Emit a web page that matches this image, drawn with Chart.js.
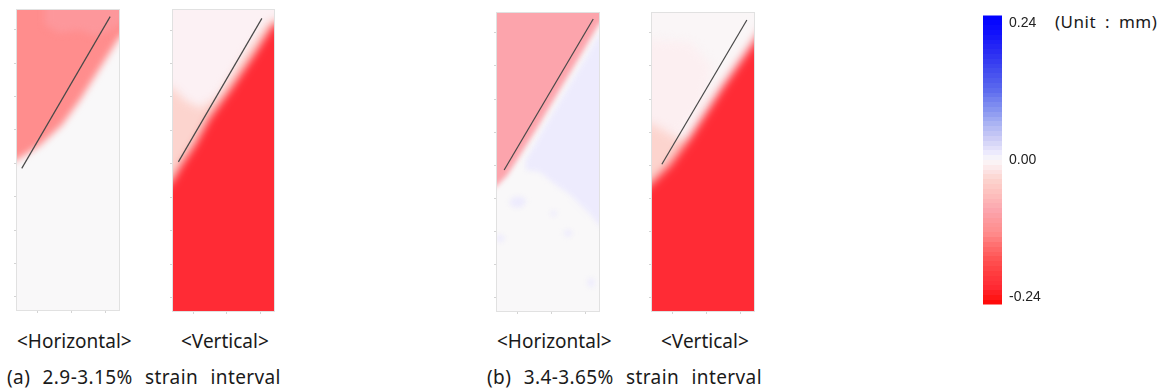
<!DOCTYPE html>
<html lang="en">
<head>
<meta charset="UTF-8">
<title>Displacement fields</title>
<script src="https://cdn.jsdelivr.net/npm/chart.js"></script>
<style>
    body {
        margin: 0;
        background: #fff;
        width: 1168px;
        height: 392px;
        position: relative;
        overflow: hidden;
        font-family: "Noto Sans", sans-serif;
        color: #1a1a1a;
    }
    canvas { position: absolute; top: 0; }
    .lbl {
        position: absolute;
        font-size: 19px;
        line-height: 1;
        white-space: nowrap;
    }
    .cap { word-spacing: 7px; letter-spacing: 0.4px; }
    .unit { font-size: 17px; letter-spacing: 0.5px; word-spacing: 4px; }
</style>
</head>
<body>
<canvas id="aH" width="125" height="314" style="left:0px"></canvas>
<canvas id="aV" width="120" height="315" style="left:160px"></canvas>
<canvas id="bH" width="121" height="315" style="left:484px"></canvas>
<canvas id="bV" width="120" height="315" style="left:640px"></canvas>
<canvas id="cbar" width="80" height="320" style="left:975px"></canvas>

<div class="lbl" style="left:17px;top:332px">&lt;Horizontal&gt;</div>
<div class="lbl" style="left:181px;top:332px">&lt;Vertical&gt;</div>
<div class="lbl" style="left:497px;top:332px">&lt;Horizontal&gt;</div>
<div class="lbl" style="left:661px;top:332px">&lt;Vertical&gt;</div>
<div class="lbl cap" style="left:7px;top:368px">(a) 2.9-3.15% strain interval</div>
<div class="lbl cap" style="left:487px;top:368px">(b) 3.4-3.65% strain interval</div>
<div class="lbl unit" style="left:1055px;top:13px">(Unit : mm)</div>

<script>
// specimen axes (mm), ticks only
const X_RANGE = [-0.6, 2.4];
const Y_RANGE = [-0.4, 8.6];
const X_TICKS = [0, 1, 2];
const Y_TICKS = [0, 1, 2, 3, 4, 5, 6, 7, 8];

// colour scale
const BAR_SPAN = [-0.253, 0.253];
const CBAR_TICKS = [-0.24, 0, 0.24];
const CMAP = [
    [0.253, '#0000ff'], [0.225, '#1010fc'], [0.19, '#2a2cf3'], [0.16, '#3f48ef'],
    [0.125, '#5a68ee'], [0.09, '#8492f0'], [0.065, '#a8b1f3'], [0.04, '#cacbf6'],
    [0.02, '#e3e1fa'], [0.012, '#edebfd'], [0, '#f9f8f9'], [-0.006, '#fcf1f4'],
    [-0.02, '#fce2e2'], [-0.035, '#fcd4ce'], [-0.056, '#fdc2bf'], [-0.09, '#fca4ac'],
    [-0.11, '#fd9699'], [-0.128, '#ff8d8d'], [-0.15, '#ff6e6e'], [-0.175, '#ff5252'],
    [-0.2, '#ff3a3e'], [-0.222, '#ff2b35'], [-0.24, '#ff1616'], [-0.253, '#ff0404']
];

// outline of the whole specimen (background level)
const SPECIMEN = [[-1, -1], [3, -1], [3, 9.5], [-1, 9.5]];

// (a) horizontal displacement
const aHorizLevels = [0, -0.128, -0.108];
const aHorizZones = [
    SPECIMEN,
    [[-1, 9.5], [3, 9.5], [3, 8.3], [2.4, 7.76], [1.84, 6.86], [1.25, 5.9], [0.72, 5.15],
     [0.08, 4.55], [-0.6, 4.1], [-1, 3.95]],
    [[0.22, 9.5], [0.22, 8.15], [0.66, 7.91], [1.25, 8.0], [1.69, 7.82], [2.19, 8.0],
     [2.7, 8.35], [2.7, 9.5]]
];
const aHorizCrack = [[-0.46, 3.85], [2.14, 8.40]];

// (a) vertical displacement
const aVertLevels = [-0.006, -0.035, -0.222];
const aVertZones = [
    SPECIMEN,
    [[-1, 6.4], [-0.6, 6.27], [-0.25, 5.91], [0.19, 5.67], [0.7, 6.0], [1.5, 7.2],
     [2.2, 8.2], [3, 8.6], [3, -1], [-1, -1]],
    [[3, 8.3], [2.37, 8.15], [1.81, 7.26], [1.14, 6.27], [0.49, 5.37], [0.05, 4.56],
     [-0.34, 3.97], [-0.6, 3.52], [-1, 3.07], [-1, -1], [3, -1]]
];
const aVertCrack = [[-0.44, 4.06], [2.04, 8.35]];

// (b) horizontal displacement
const bHorizLevels = [0, 0.012, -0.09, 0.012, 0.012, 0.012, 0.012, 0.012];
const bHorizZones = [
    SPECIMEN,
    [[3, 8.3], [2.4, 7.95], [2.0, 7.24], [1.36, 6.13], [0.78, 5.13], [0.24, 4.16],
     [0.24, 3.86], [0.66, 3.8], [1.12, 3.41], [1.56, 3.1], [2.15, 2.5], [2.4, 2.2], [3, 2.0]],
    [[-1, 9.5], [3, 9.5], [3, 8.7], [2.4, 8.27], [1.81, 7.24], [1.16, 6.13], [0.58, 5.13],
     [-0.01, 4.16], [-0.3, 3.7], [-0.6, 3.38], [-1, 3.1]],
    [[-0.25, 2.9], [-0.1, 3.05], [0.15, 3.05], [0.28, 2.9], [0.1, 2.72], [-0.15, 2.74]],
    [[0.96, 2.55], [1.06, 2.66], [1.17, 2.55], [1.06, 2.43]],
    [[1.33, 1.95], [1.48, 2.07], [1.65, 1.96], [1.5, 1.83]],
    [[2.04, 0.45], [2.15, 0.62], [2.29, 0.48], [2.18, 0.28]],
    [[-0.7, 1.8], [-0.5, 1.92], [-0.35, 1.8], [-0.5, 1.66]]
];
const bHorizCrack = [[-0.39, 3.86], [2.23, 8.42]];

// (b) vertical displacement
const bVertLevels = [-0.002, -0.008, -0.035, -0.222];
const bVertZones = [
    SPECIMEN,
    [[-1, 7.8], [0.52, 7.73], [1.16, 7.0], [0.96, 5.94], [0.22, 4.89], [-1, 4.5]],
    [[-1, 5.3], [-0.6, 5.25], [0, 4.9], [0.5, 4.7], [3, 8], [3, -1], [-1, -1]],
    [[2.9, 8.5], [2.4, 7.73], [1.46, 6.34], [0.52, 4.83], [-0.07, 4.01], [-0.6, 3.47],
     [-1, 3.1], [-1, -1], [3, -1]]
];
const bVertCrack = [[-0.31, 4.03], [2.19, 8.39]];

function hexRgb(h) {
    return [1, 3, 5].map(i => parseInt(h.slice(i, i + 2), 16));
}

// linear lookup in the colour map
function colourAt(v) {
    if (v >= CMAP[0][0]) return CMAP[0][1];
    for (let i = 1; i < CMAP.length; i++) {
        const [v1, c1] = CMAP[i];
        if (v >= v1) {
            const [v0, c0] = CMAP[i - 1];
            const t = (v - v1) / (v0 - v1);
            const a = hexRgb(c1), b = hexRgb(c0);
            const rgb = a.map((x, k) => Math.round(x + (b[k] - x) * t));
            return `rgb(${rgb.join(',')})`;
        }
    }
    return CMAP[CMAP.length - 1][1];
}

// contour fills are soft, crack line and frame are not
const panelLook = {
    id: 'panelLook',
    beforeDatasetsDraw(chart, args, opts) {
        chart.ctx.save();
        chart.ctx.filter = `blur(${opts.blur}px)`;
    },
    beforeDatasetDraw(chart, args) {
        if (chart.data.datasets[args.index].sharp) chart.ctx.filter = 'none';
    },
    afterDatasetDraw(chart, args, opts) {
        if (chart.data.datasets[args.index].sharp) chart.ctx.filter = `blur(${opts.blur}px)`;
    },
    afterDatasetsDraw(chart) {
        const {ctx, chartArea: a} = chart;
        ctx.restore();
        ctx.save();
        ctx.strokeStyle = '#e1e1e1';
        ctx.lineWidth = 1;
        ctx.strokeRect(a.left - 0.5, a.top - 0.5, a.right - a.left + 1, a.bottom - a.top + 1);
        ctx.restore();
    }
};

function axis(range, ticks, isX) {
    return {
        type: 'linear',
        min: range[0],
        max: range[1],
        afterBuildTicks: s => { s.ticks = ticks.map(v => ({value: v})); },
        afterFit: s => { if (isX) s.height = 4; else s.width = 4; },
        ticks: {display: false},
        grid: {drawOnChartArea: false, tickLength: 3, color: '#d4d4d4'},
        border: {display: false}
    };
}

function buildPanel(id, pad, zones, levels, crack, blur) {
    // first dataset is drawn on top
    const datasets = [{
        data: crack, borderColor: '#484848', borderWidth: 1.2,
        pointRadius: 0, fill: false, sharp: true
    }];
    for (let i = zones.length - 1; i >= 0; i--) {
        datasets.push({
            data: zones[i], backgroundColor: colourAt(levels[i]),
            borderWidth: 0, pointRadius: 0, fill: 'shape'
        });
    }
    new Chart(document.getElementById(id), {
        type: 'line',
        data: {datasets},
        options: {
            responsive: false,
            animation: false,
            events: [],
            layout: {padding: pad},
            plugins: {legend: {display: false}, tooltip: {enabled: false}, panelLook: {blur}},
            scales: {x: axis(X_RANGE, X_TICKS, true), y: axis(Y_RANGE, Y_TICKS, false)}
        },
        plugins: [panelLook]
    });
}

buildPanel('aH', {left: 13, top: 10, right: 6, bottom: 0}, aHorizZones, aHorizLevels, aHorizCrack, 3.5);
buildPanel('aV', {left: 9, top: 10, right: 6, bottom: 0}, aVertZones, aVertLevels, aVertCrack, 4);
buildPanel('bH', {left: 9, top: 13, right: 6, bottom: 0}, bHorizZones, bHorizLevels, bHorizCrack, 2.5);
buildPanel('bV', {left: 8, top: 13, right: 6, bottom: 0}, bVertZones, bVertLevels, bVertCrack, 5);

// colour bar in stepped bands
const CBAR_STEPS = 60;
function bandGradient(chart) {
    const {ctx, chartArea, scales} = chart;
    if (!chartArea) return null;
    const top = scales.y.getPixelForValue(BAR_SPAN[1]);
    const bottom = scales.y.getPixelForValue(BAR_SPAN[0]);
    const g = ctx.createLinearGradient(0, top, 0, bottom);
    const span = BAR_SPAN[1] - BAR_SPAN[0];
    for (let k = 0; k < CBAR_STEPS; k++) {
        const c = colourAt(BAR_SPAN[1] - (k + 0.5) * span / CBAR_STEPS);
        g.addColorStop(k / CBAR_STEPS, c);
        g.addColorStop((k + 1) / CBAR_STEPS, c);
    }
    return g;
}

new Chart(document.getElementById('cbar'), {
    type: 'bar',
    data: {
        labels: [''],
        datasets: [{
            data: [BAR_SPAN],
            backgroundColor: c => bandGradient(c.chart),
            borderWidth: 0,
            barPercentage: 1,
            categoryPercentage: 1
        }]
    },
    options: {
        responsive: false,
        animation: false,
        events: [],
        layout: {padding: {left: 8, top: 15, right: 0, bottom: 10}},
        plugins: {legend: {display: false}, tooltip: {enabled: false}},
        scales: {
            x: {display: false},
            y: {
                position: 'right',
                min: BAR_SPAN[0],
                max: BAR_SPAN[1],
                afterBuildTicks: s => { s.ticks = CBAR_TICKS.map(v => ({value: v})); },
                afterFit: s => { s.width = 53; },
                grid: {display: false, drawTicks: false},
                border: {display: false},
                ticks: {
                    padding: 7,
                    color: '#222',
                    font: {family: '"Liberation Sans", Arial, sans-serif', size: 14},
                    callback: v => v.toFixed(2)
                }
            }
        }
    }
});
</script>
</body>
</html>
